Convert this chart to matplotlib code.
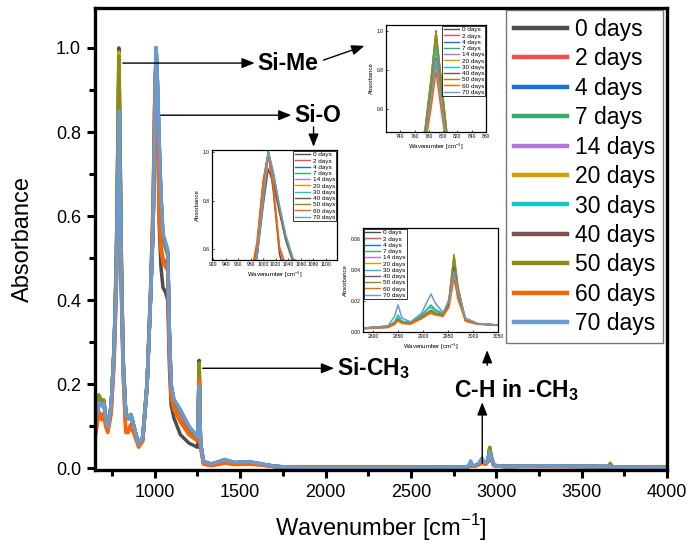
import matplotlib
matplotlib.use("Agg")
import matplotlib.pyplot as plt
from matplotlib.ticker import MultipleLocator, FormatStrFormatter, FixedLocator

plt.rcParams['font.family'] = ['Liberation Sans', 'DejaVu Sans']
plt.rcParams['mathtext.fontset'] = 'custom'
plt.rcParams['mathtext.rm'] = 'Liberation Sans'
plt.rcParams['mathtext.bf'] = 'Liberation Sans:bold'

# ---------------- data ----------------
wn = [650, 672, 690, 702, 712, 725, 745, 762, 775, 783,
      790, 797, 805, 815, 830, 845, 860, 880, 906, 930,
      955, 975, 990, 1000, 1008, 1016, 1026, 1036, 1048, 1062,
      1076, 1086, 1096, 1112, 1150, 1200, 1240, 1252, 1260, 1268,
      1285, 1330, 1410, 1470, 1550, 1620, 1700, 1800, 2400, 2780,
      2830, 2843, 2850, 2858, 2875, 2897, 2909, 2916, 2924, 2940,
      2952, 2962, 2970, 2985, 3010, 3050, 3300, 3655, 3668, 3680,
      4000]

labels = ['0 days', '2 days', '4 days', '7 days', '14 days', '20 days',
          '30 days', '40 days', '50 days', '60 days', '70 days']

abs_0d = [0.100, 0.160, 0.150, 0.155, 0.120, 0.095, 0.150, 0.290, 0.500, 0.750,
          1.000, 0.760, 0.480, 0.260, 0.130, 0.118, 0.127, 0.095, 0.055, 0.070,
          0.190, 0.400, 0.600, 0.880, 1.000, 0.840, 0.580, 0.480, 0.430, 0.420,
          0.400, 0.240, 0.150, 0.120, 0.080, 0.060, 0.052, 0.050, 0.257, 0.060,
          0.015, 0.009, 0.018, 0.012, 0.014, 0.010, 0.004, 0.002, 0.002, 0.0025,
          0.003, 0.005, 0.0077, 0.006, 0.0055, 0.009, 0.012, 0.014, 0.012, 0.011,
          0.020, 0.0477, 0.028, 0.0075, 0.0052, 0.0045, 0.005, 0.004, 0.005, 0.003,
          0.002]
abs_2d = [0.075, 0.135, 0.120, 0.132, 0.104, 0.088, 0.135, 0.260, 0.440, 0.650,
          0.840, 0.650, 0.420, 0.230, 0.090, 0.090, 0.105, 0.082, 0.052, 0.066,
          0.200, 0.420, 0.620, 0.880, 0.990, 0.860, 0.610, 0.530, 0.500, 0.490,
          0.480, 0.280, 0.175, 0.145, 0.115, 0.085, 0.070, 0.067, 0.210, 0.052,
          0.011, 0.007, 0.013, 0.010, 0.011, 0.008, 0.004, 0.003, 0.003, 0.0022,
          0.003, 0.005, 0.0075, 0.0058, 0.0052, 0.0095, 0.012, 0.013, 0.0115, 0.0105,
          0.018, 0.040, 0.024, 0.007, 0.005, 0.0045, 0.0045, 0.004, 0.004, 0.003,
          0.003]
abs_4d = [0.102, 0.158, 0.150, 0.156, 0.122, 0.097, 0.150, 0.285, 0.480, 0.720,
          0.950, 0.720, 0.460, 0.250, 0.130, 0.118, 0.127, 0.095, 0.057, 0.074,
          0.200, 0.400, 0.570, 0.810, 1.000, 0.910, 0.760, 0.640, 0.545, 0.530,
          0.510, 0.310, 0.195, 0.160, 0.135, 0.098, 0.078, 0.074, 0.230, 0.060,
          0.016, 0.010, 0.019, 0.013, 0.015, 0.010, 0.005, 0.002, 0.002, 0.0025,
          0.0035, 0.0055, 0.008, 0.006, 0.0055, 0.0095, 0.012, 0.013, 0.012, 0.011,
          0.019, 0.044, 0.026, 0.0075, 0.0052, 0.0045, 0.0055, 0.004, 0.005, 0.003,
          0.002]
abs_7d = [0.104, 0.160, 0.151, 0.157, 0.123, 0.098, 0.150, 0.283, 0.470, 0.710,
          0.930, 0.710, 0.450, 0.248, 0.131, 0.119, 0.128, 0.096, 0.058, 0.075,
          0.205, 0.410, 0.580, 0.820, 1.000, 0.905, 0.755, 0.635, 0.540, 0.525,
          0.505, 0.305, 0.192, 0.158, 0.133, 0.097, 0.078, 0.074, 0.235, 0.060,
          0.017, 0.010, 0.021, 0.014, 0.016, 0.011, 0.005, 0.002, 0.002, 0.0025,
          0.0037, 0.006, 0.009, 0.0065, 0.006, 0.011, 0.015, 0.0174, 0.0145, 0.012,
          0.019, 0.044, 0.026, 0.0075, 0.0052, 0.0045, 0.0055, 0.004, 0.005, 0.003,
          0.002]
abs_14d = [0.103, 0.158, 0.149, 0.156, 0.121, 0.097, 0.150, 0.285, 0.478, 0.715,
           0.945, 0.715, 0.458, 0.250, 0.130, 0.118, 0.127, 0.095, 0.057, 0.074,
           0.200, 0.405, 0.575, 0.815, 1.000, 0.910, 0.765, 0.645, 0.550, 0.535,
           0.512, 0.312, 0.196, 0.161, 0.136, 0.098, 0.079, 0.074, 0.240, 0.060,
           0.016, 0.010, 0.019, 0.013, 0.015, 0.010, 0.005, 0.002, 0.002, 0.0025,
           0.0035, 0.0055, 0.0078, 0.006, 0.0055, 0.0095, 0.012, 0.013, 0.012, 0.011,
           0.020, 0.046, 0.027, 0.0075, 0.0052, 0.0045, 0.0055, 0.004, 0.005, 0.003,
           0.002]
abs_20d = [0.110, 0.165, 0.155, 0.160, 0.125, 0.099, 0.152, 0.290, 0.500, 0.750,
           0.990, 0.750, 0.480, 0.258, 0.132, 0.120, 0.128, 0.096, 0.057, 0.074,
           0.200, 0.405, 0.575, 0.815, 1.000, 0.912, 0.770, 0.650, 0.553, 0.535,
           0.515, 0.315, 0.197, 0.162, 0.137, 0.099, 0.079, 0.075, 0.250, 0.061,
           0.016, 0.010, 0.019, 0.013, 0.015, 0.010, 0.005, 0.002, 0.002, 0.0025,
           0.0035, 0.0055, 0.008, 0.006, 0.0055, 0.0095, 0.012, 0.013, 0.012, 0.011,
           0.021, 0.050, 0.029, 0.0075, 0.0052, 0.0045, 0.0055, 0.004, 0.005, 0.003,
           0.002]
abs_30d = [0.104, 0.158, 0.150, 0.156, 0.122, 0.097, 0.150, 0.282, 0.465, 0.700,
           0.920, 0.700, 0.445, 0.245, 0.130, 0.118, 0.127, 0.095, 0.057, 0.075,
           0.202, 0.405, 0.575, 0.812, 1.000, 0.912, 0.768, 0.648, 0.552, 0.535,
           0.515, 0.315, 0.197, 0.162, 0.137, 0.099, 0.079, 0.075, 0.220, 0.060,
           0.016, 0.010, 0.019, 0.013, 0.015, 0.010, 0.005, 0.002, 0.002, 0.0025,
           0.0038, 0.0065, 0.011, 0.007, 0.006, 0.0105, 0.0145, 0.016, 0.0135, 0.0115,
           0.020, 0.045, 0.027, 0.0075, 0.0052, 0.0045, 0.0055, 0.004, 0.005, 0.003,
           0.002]
abs_40d = [0.103, 0.157, 0.149, 0.155, 0.121, 0.097, 0.148, 0.280, 0.455, 0.670,
           0.860, 0.670, 0.425, 0.240, 0.130, 0.118, 0.127, 0.095, 0.057, 0.074,
           0.200, 0.400, 0.565, 0.780, 0.930, 0.870, 0.750, 0.640, 0.550, 0.535,
           0.515, 0.315, 0.197, 0.162, 0.137, 0.099, 0.079, 0.075, 0.200, 0.060,
           0.016, 0.010, 0.019, 0.013, 0.015, 0.010, 0.005, 0.002, 0.002, 0.0025,
           0.0035, 0.0055, 0.0078, 0.006, 0.0055, 0.0095, 0.0125, 0.0135, 0.012, 0.011,
           0.019, 0.042, 0.025, 0.0075, 0.0052, 0.0045, 0.0055, 0.004, 0.005, 0.003,
           0.002]
abs_50d = [0.118, 0.175, 0.160, 0.163, 0.127, 0.100, 0.152, 0.288, 0.495, 0.740,
           0.980, 0.740, 0.475, 0.255, 0.132, 0.120, 0.128, 0.096, 0.057, 0.074,
           0.200, 0.405, 0.575, 0.815, 1.000, 0.912, 0.770, 0.650, 0.553, 0.535,
           0.515, 0.315, 0.197, 0.162, 0.137, 0.099, 0.079, 0.075, 0.250, 0.061,
           0.016, 0.010, 0.019, 0.013, 0.015, 0.010, 0.005, 0.002, 0.002, 0.0025,
           0.0035, 0.0055, 0.008, 0.006, 0.0055, 0.0095, 0.0125, 0.0135, 0.012, 0.011,
           0.021, 0.0495, 0.029, 0.0075, 0.0052, 0.0045, 0.0055, 0.004, 0.012, 0.003,
           0.002]
abs_60d = [0.068, 0.130, 0.115, 0.128, 0.100, 0.085, 0.130, 0.250, 0.420, 0.600,
           0.790, 0.600, 0.400, 0.220, 0.085, 0.085, 0.100, 0.080, 0.050, 0.065,
           0.200, 0.420, 0.630, 0.880, 0.990, 0.860, 0.600, 0.520, 0.490, 0.480,
           0.470, 0.270, 0.170, 0.140, 0.110, 0.080, 0.068, 0.065, 0.210, 0.050,
           0.010, 0.006, 0.012, 0.009, 0.010, 0.008, 0.004, 0.003, 0.003, 0.002,
           0.003, 0.005, 0.0072, 0.0055, 0.005, 0.0085, 0.011, 0.012, 0.011, 0.010,
           0.016, 0.0346, 0.021, 0.007, 0.005, 0.0045, 0.004, 0.004, 0.004, 0.003,
           0.003]
abs_70d = [0.105, 0.157, 0.148, 0.155, 0.122, 0.098, 0.150, 0.280, 0.450, 0.660,
           0.850, 0.660, 0.420, 0.240, 0.130, 0.118, 0.127, 0.095, 0.057, 0.075,
           0.200, 0.400, 0.570, 0.800, 1.000, 0.920, 0.780, 0.660, 0.560, 0.540,
           0.520, 0.320, 0.200, 0.165, 0.140, 0.100, 0.080, 0.075, 0.195, 0.060,
           0.016, 0.010, 0.020, 0.014, 0.016, 0.011, 0.005, 0.002, 0.002, 0.0025,
           0.004, 0.010, 0.0175, 0.009, 0.0065, 0.012, 0.020, 0.0245, 0.019, 0.0125,
           0.020, 0.039, 0.026, 0.009, 0.0055, 0.0045, 0.006, 0.004, 0.005, 0.003,
           0.002]

colors = ['#4d4d4d', '#f24d4d', '#1a6fdf', '#37ad6b', '#b177de', '#d49f00',
          '#10c8cd', '#7f5252', '#8c8c0f', '#fb6501', '#6b9ad0']

series = [abs_0d, abs_2d, abs_4d, abs_7d, abs_14d, abs_20d,
          abs_30d, abs_40d, abs_50d, abs_60d, abs_70d]

# ---------------- figure ----------------
W, H = 689, 549
fig = plt.figure(figsize=(W / 100, H / 100), dpi=100)


def fig_rect(l, t, r, b):
    return [l / W, 1 - b / H, (r - l) / W, (b - t) / H]


ax = fig.add_axes(fig_rect(95, 8, 667, 470))
for y, lab, c in zip(series, labels, colors):
    ax.plot(wn, y, color=c, lw=2.5, label=lab, solid_joinstyle='round')

ax.set_xlim(650, 4000)
ax.set_ylim(-0.004, 1.095)
ax.xaxis.set_major_locator(FixedLocator([1000, 1500, 2000, 2500, 3000, 3500, 4000]))
ax.xaxis.set_minor_locator(FixedLocator([750, 1250, 1750, 2250, 2750, 3250, 3750]))
ax.yaxis.set_major_locator(MultipleLocator(0.2))
ax.yaxis.set_minor_locator(MultipleLocator(0.1))
ax.yaxis.set_major_formatter(FormatStrFormatter('%.1f'))
for s in ax.spines.values():
    s.set_linewidth(2.4)
ax.tick_params(which='major', direction='out', length=6, width=2.2, labelsize=13, pad=4)
ax.tick_params(which='minor', direction='out', length=4, width=2.2)
ax.set_xlabel('Wavenumber [cm$^{-1}$]', fontsize=17, labelpad=8)
ax.set_ylabel('Absorbance', fontsize=17, labelpad=16)

leg = ax.legend(loc='upper right', bbox_to_anchor=(663 / W, 1 - 10 / H),
                bbox_transform=fig.transFigure, fontsize=16.5, frameon=True,
                fancybox=False, edgecolor='#555555', handlelength=2.3,
                handletextpad=0.35, labelspacing=0.28, borderpad=0.35,
                borderaxespad=0)
leg.get_frame().set_linewidth(1.0)
for h in leg.get_lines():
    h.set_linewidth(3.2)

# ---------------- annotations ----------------
ap = dict(arrowstyle='-|>,head_length=0.55,head_width=0.22', color='black',
          lw=1.0, shrinkA=0, shrinkB=0, mutation_scale=14)
tfont = dict(fontsize=16.5, fontweight='bold')

ax.annotate('', xy=(1585, 0.964), xytext=(813, 0.964), arrowprops=ap)
ax.text(1600, 0.964, 'Si-Me', ha='left', va='center', **tfont)
ax.annotate('', xy=(2228, 1.005), xytext=(1988, 0.971), arrowprops=ap)

ax.annotate('', xy=(1800, 0.84), xytext=(1035, 0.84), arrowprops=ap)
ax.text(1815, 0.84, 'Si-O', ha='left', va='center', **tfont)
ax.annotate('', xy=(1930, 0.765), xytext=(1930, 0.812), arrowprops=ap)

ax.annotate('', xy=(2050, 0.238), xytext=(1281, 0.238), arrowprops=ap)
ax.text(2070, 0.238, r'Si-CH$_\mathbf{3}$', ha='left', va='center', **tfont)

ax.annotate('', xy=(2918, 0.157), xytext=(2918, 0.012), arrowprops=ap)
ax.text(3117, 0.186, r'C-H in -CH$_\mathbf{3}$', ha='center', va='center', **tfont)
ax.annotate('', xy=(2947, 0.281), xytext=(2947, 0.245), arrowprops=ap)


# ---------------- insets ----------------
def make_inset(rect, xlim, ylim, xt, yt, yfmt, legloc):
    a = fig.add_axes(fig_rect(*rect))
    for y, lab, c in zip(series, labels, colors):
        a.plot(wn, y, color=c, lw=1.1, label=lab)
    a.set_xlim(*xlim)
    a.set_ylim(*ylim)
    a.set_xticks(xt)
    a.set_yticks(yt)
    a.yaxis.set_major_formatter(FormatStrFormatter(yfmt))
    a.tick_params(labelsize=3.6, length=1.5, width=0.5, pad=1.5, direction='in')
    for s in a.spines.values():
        s.set_linewidth(0.9)
    a.set_xlabel('Wavenumber [cm$^{-1}$]', fontsize=4.3, labelpad=2)
    a.set_ylabel('Absorbance', fontsize=4.3, labelpad=2)
    lg = a.legend(loc=legloc, fontsize=4.6, frameon=True, fancybox=False,
                  edgecolor='black', handlelength=2.4, handletextpad=0.4,
                  labelspacing=0.12, borderpad=0.2, borderaxespad=0.1)
    lg.get_frame().set_linewidth(0.7)
    for h in lg.get_lines():
        h.set_linewidth(1.0)
    return a


make_inset((386, 25, 486, 132), (720, 860), (0.48, 1.03),
           [740, 760, 780, 800, 820, 840, 860], [0.6, 0.8, 1.0], '%.1f', 'upper right')
make_inset((212, 150, 337, 260), (918, 1118), (0.555, 1.008),
           [920, 940, 960, 980, 1000, 1020, 1040, 1060, 1080, 1100], [0.6, 0.8, 1.0],
           '%.1f', 'upper right')
make_inset((363, 228, 498, 332), (2780, 3050), (0.0, 0.067),
           [2800, 2850, 2900, 2950, 3000, 3050], [0.0, 0.02, 0.04, 0.06], '%.2f',
           'upper left')

fig.savefig('out.png', dpi=100)
